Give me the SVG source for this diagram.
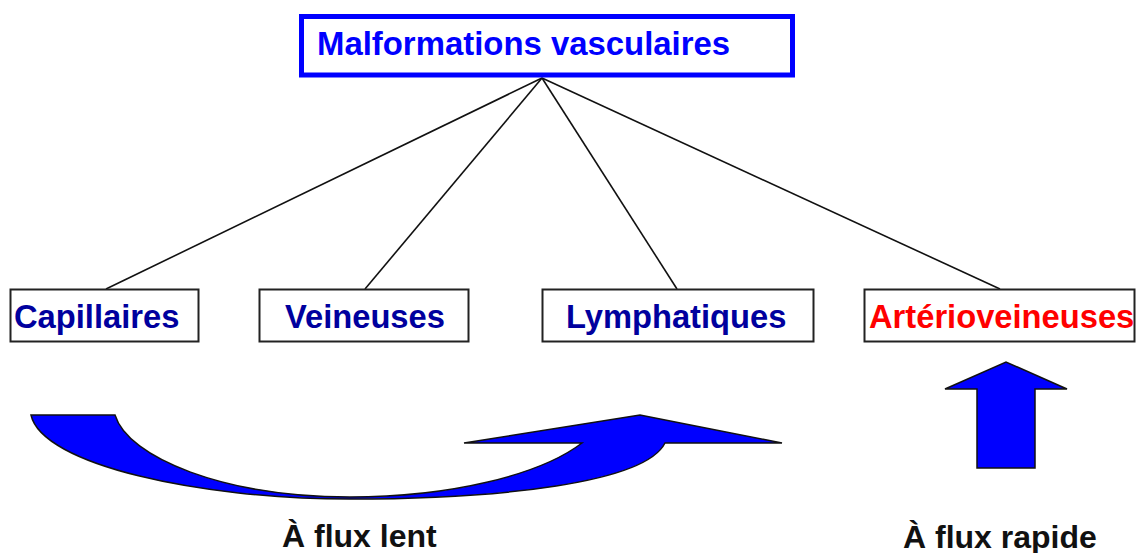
<svg xmlns="http://www.w3.org/2000/svg" width="1136" height="553" viewBox="0 0 1136 553">
<style>
text{font-family:"Liberation Sans",Arial,sans-serif;font-weight:bold;}
.node rect{fill:#fff;stroke:#222;stroke-width:2;}
.nt{font-size:32.7px;fill:#00009E;}
.lbl{font-size:32px;fill:#111;}
.conn line{stroke:#111;stroke-width:1.6;}
.arrow{fill:#0000FF;stroke:#111;stroke-width:1.5;stroke-linejoin:miter;}
</style>
<rect width="1136" height="553" fill="#fff"/>
<g id="connectors" class="conn">
<line x1="542" y1="78" x2="106" y2="289"/>
<line x1="542" y1="78" x2="365" y2="289"/>
<line x1="542" y1="78" x2="677" y2="289"/>
<line x1="542" y1="78" x2="1000" y2="289"/>
</g>
<g id="root">
<rect x="301.5" y="16.5" width="491" height="58.5" fill="#fff" stroke="#0000FF" stroke-width="5"/>
<text x="317" y="55" font-size="32.9" fill="#0000FF">Malformations vasculaires</text>
</g>
<g id="capillaires" class="node">
<rect x="10.5" y="289.5" width="188" height="52"/>
<text class="nt" x="14" y="328">Capillaires</text>
</g>
<g id="veineuses" class="node">
<rect x="259.5" y="289.5" width="209" height="52"/>
<text class="nt" x="285" y="328">Veineuses</text>
</g>
<g id="lymphatiques" class="node">
<rect x="542.5" y="289.5" width="271" height="52"/>
<text class="nt" x="566" y="328">Lymphatiques</text>
</g>
<g id="arterioveineuses" class="node">
<rect x="864.5" y="289.5" width="270" height="52"/>
<text class="nt" x="869" y="328" fill="#FF0000" style="fill:#FF0000">Artérioveineuses</text>
</g>
<g id="flux-lent">
<path class="arrow" d="M31,415 L115,415 C128,458 225,497 350,497 C450,497 540,475 582,443 L464,443 L640,415 L782,443 L665,443 C645,483 500,499 350,499 C200,499 42,465 31,415 Z"/>
<text class="lbl" x="282" y="547">À flux lent</text>
</g>
<g id="flux-rapide">
<path class="arrow" d="M977,468 L977,389 L945,389 L1006,362 L1067,389 L1035,389 L1035,468 Z"/>
<text class="lbl" x="903" y="548">À flux rapide</text>
</g>
</svg>
